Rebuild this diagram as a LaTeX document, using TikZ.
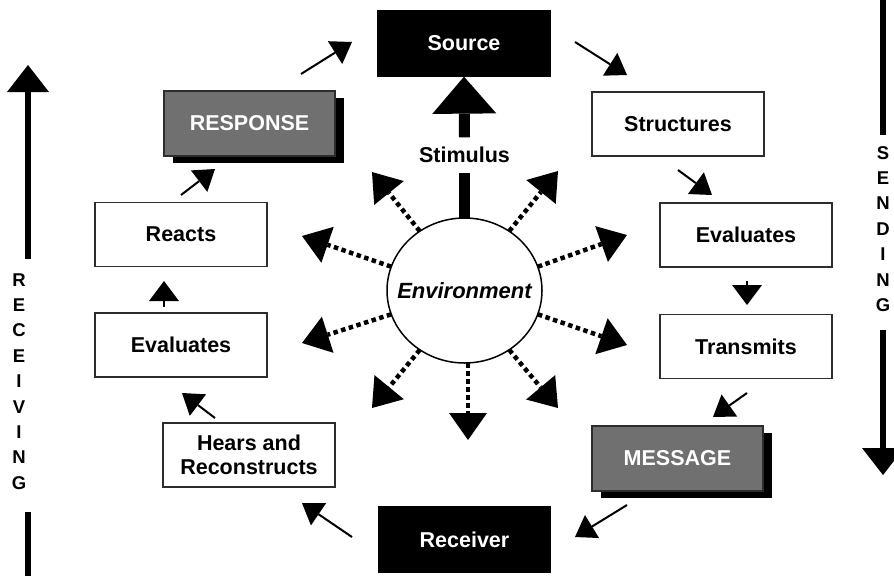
\documentclass[tikz,border=0pt]{standalone}
\usepackage{fontspec}
\setmainfont{Liberation Sans}
\usetikzlibrary{arrows.meta,shapes.geometric,shadows}
\definecolor{boxgray}{RGB}{112,112,112}
\definecolor{edgegray}{RGB}{45,45,45}
\begin{document}
\begin{tikzpicture}[x=1pt,y=-1pt,
  lbl/.style={font=\fontsize{21.5}{25}\selectfont\bfseries},
  box/.style={lbl, draw=edgegray, line width=1.3pt, fill=white, minimum width=172pt,
    minimum height=64pt, inner sep=0pt, align=center},
  darkbox/.style={box, fill=black, draw=black, text=white},
  graybox/.style={box, fill=boxgray, text=white,
    drop shadow={shadow xshift=9pt, shadow yshift=-7pt, opacity=1, fill=black}},
  conn/.style={line width=2pt, -{Triangle[length=20pt,width=27pt,line width=0pt]}},
  smallconn/.style={line width=2.5pt, -{Triangle[length=20pt,width=30pt,line width=0pt]}},
  dots/.style={line width=4.5pt, dash pattern=on 4.5pt off 3.5pt,
    -{Triangle[length=27pt,width=38pt,line width=0pt]}},
  side/.style={line width=6pt},
  sidetip/.style={side, -{Triangle[length=27pt,width=42pt,line width=0pt]}},
  stem/.style={line width=11pt},
  letters/.style={font=\fontsize{18.5}{25.4}\selectfont\bfseries, align=center, inner sep=0pt},
  envshape/.style={ellipse, minimum width=155pt, minimum height=145pt, inner sep=0pt}
]
\useasboundingbox (0,0) rectangle (894,576);
\fill[white] (0,0) rectangle (894,576);

% boxes
\node[darkbox, minimum height=65pt] (source) at (464,43.5) {Source};
\node[box] (structures) at (678,124) {Structures};
\node[box] (evalR) at (746,235) {Evaluates};
\node[box] (transmits) at (746,346.5) {Transmits};
\node[graybox, minimum width=171pt, minimum height=65pt] (message) at (677.5,458.5) {MESSAGE};
\node[darkbox, minimum width=171pt, minimum height=65pt] (receiver) at (464.5,539.5) {Receiver};
\node[box] (hears) at (249,455) {Hears and\\[-1pt]Reconstructs};
\node[box] (evalL) at (181,345) {Evaluates};
\node[box] (reacts) at (181,234.5) {Reacts};
\node[graybox, minimum width=171pt, minimum height=65pt] (response) at (249.5,123.5) {RESPONSE};

% connector end points
\coordinate (c1a) at (301,74);  \coordinate (c1b) at (352,42);
\coordinate (c2a) at (575,42);  \coordinate (c2b) at (627,75);
\coordinate (c3a) at (678,170); \coordinate (c3b) at (712,195);
\coordinate (c4a) at (747,281); \coordinate (c4b) at (747,305);
\coordinate (c5a) at (747,393); \coordinate (c5b) at (713,417);
\coordinate (c6a) at (627,505); \coordinate (c6b) at (575,537);
\coordinate (c7a) at (352,537); \coordinate (c7b) at (302,503);
\coordinate (c8a) at (215,418); \coordinate (c8b) at (182,393);
\coordinate (c9a) at (164,307); \coordinate (c9b) at (164,281);
\coordinate (c10a) at (181,195); \coordinate (c10b) at (215,169);

\draw[conn] (c1a) -- (c1b);
\draw[conn] (c2a) -- (c2b);
\draw[conn] (c3a) -- (c3b);
\draw[smallconn] (c4a) -- (c4b);
\draw[conn] (c5a) -- (c5b);
\draw[conn] (c6a) -- (c6b);
\draw[conn] (c7a) -- (c7b);
\draw[conn] (c8a) -- (c8b);
\draw[smallconn] (c9a) -- (c9b);
\draw[conn] (c10a) -- (c10b);

% environment
\node[envshape] (env) at (464.5,290.5) {};
\coordinate (dUL) at (372,172);
\coordinate (dUR) at (558,171);
\coordinate (dLU) at (302,236);
\coordinate (dLL) at (302,343);
\coordinate (dRU) at (627,235);
\coordinate (dRL) at (627,345);
\coordinate (dBL) at (372,408);
\coordinate (dBR) at (558,408);
\coordinate (dB) at (468,440);
\draw[dots] (env.127) -- (dUL);
\draw[dots] (env.53) -- (dUR);
\draw[dots] (env.162) -- (dLU);
\draw[dots] (env.198) -- (dLL);
\draw[dots] (env.18) -- (dRU);
\draw[dots] (env.-18) -- (dRL);
\draw[dots] (env.233) -- (dBL);
\draw[dots] (env.307) -- (dBR);
\draw[dots] (env.south -| dB) -- (dB);
\node[envshape, draw=black, line width=1.5pt, fill=white] (envring) at (env.center) {};
\node[inner sep=0pt, font=\fontsize{22}{26}\selectfont\bfseries\itshape] (envtext) at (env.center) {Environment};

% stimulus
\node[lbl, inner sep=0pt, minimum height=35pt] (stim) at (464.5,155) {Stimulus};
\draw[stem] (env.north) -- (stim.south);
\draw[stem, -{Triangle[length=37pt,width=64pt,line width=0pt]}] (stim.north) -- (source.south);

% receiving (left)
\node[letters] (recv) at (19,381.5) {R\\E\\C\\E\\I\\V\\I\\N\\G};
\coordinate (rl1) at (28,259); \coordinate (rl2) at (28,65);
\coordinate (rl3) at (28,512); \coordinate (rl4) at (28,576);
\draw[sidetip] (rl1) -- (rl2);
\draw[side] (rl3) -- (rl4);

% sending (right)
\node[letters] (send) at (883,229) {S\\E\\N\\D\\I\\N\\G};
\coordinate (sl1) at (883,0); \coordinate (sl2) at (883,135);
\coordinate (sl3) at (883,330); \coordinate (sl4) at (883,475);
\draw[side] (sl1) -- (sl2);
\draw[sidetip] (sl3) -- (sl4);
\end{tikzpicture}
\end{document}
